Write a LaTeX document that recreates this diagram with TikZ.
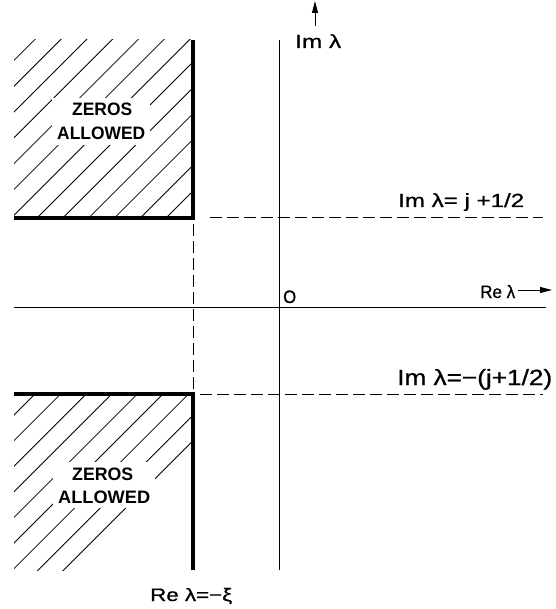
\documentclass[tikz,border=0pt]{standalone}
\usepackage{fontspec}
\usepackage{graphicx}
\setmainfont{Liberation Sans}
\newfontfamily\labfont[FakeBold=0.8]{Liberation Sans}
\newcommand{\fitw}[3]{\resizebox{#1pt}{\height}{\fontsize{#2}{#2}\selectfont #3}}
\usetikzlibrary{arrows.meta}
\begin{document}
\begin{tikzpicture}[x=1pt,y=-1pt,
  thin line/.style={line width=1pt},
  thick edge/.style={line width=3.5pt},
  dash line/.style={line width=1pt,dash pattern=on 12pt off 5pt},
  hatch/.style={line width=0.8pt},
  lbl/.style={inner sep=0pt,anchor=base west,font=\labfont},
  zlbl/.style={inner sep=0pt,anchor=base west,font=\bfseries},
  wbox/.style={fill=white,draw=none},
  arr/.style={line width=1pt,-{Triangle[length=12pt,width=6pt]}}]
\useasboundingbox (0,0) rectangle (555,609);
% coordinates
\coordinate (vtop) at (279,40);
\coordinate (vbot) at (279,570);
\coordinate (hl) at (14,307);
\coordinate (hr) at (546,307);
\coordinate (c1) at (193,218);
\coordinate (c2) at (193,394);
\coordinate (t1l) at (14,218);
\coordinate (t1t) at (193,40);
\coordinate (t2l) at (14,394);
\coordinate (t2b) at (193,570);
\coordinate (d1s) at (210,218);
\coordinate (d1e) at (543,218);
\coordinate (d2s) at (200,394);
\coordinate (d2e) at (543,394);
\coordinate (dvs) at (193,224);
% hatching top
\begin{scope}
\clip (14,40) rectangle (193,218);
\foreach \k in {-7,...,6} {
  \pgfmathsetmacro{\c}{255+25.8*\k}
  \draw[hatch] (\c-300,300) -- (\c+100,-100);
}
\end{scope}
% hatching bottom
\begin{scope}
\clip (14,394) rectangle (193,570);
\foreach \k in {-7,...,8} {
  \pgfmathsetmacro{\c}{429+25.6*\k}
  \draw[hatch] (\c-700,700) -- (\c-300,300);
}
\end{scope}
% white patches behind region labels
\fill[wbox] (52,98) rectangle (150,145);
\fill[wbox] (53,462) rectangle (155,508);
% labels in regions
\node[zlbl] (z1a) at (72,116) {\fitw{60}{18}{ZEROS}};
\node[zlbl] (z1b) at (57,140) {\fitw{88}{18}{ALLOWED}};
\node[zlbl] (z2a) at (72,480) {\fitw{61}{18}{ZEROS}};
\node[zlbl] (z2b) at (58,503) {\fitw{92}{18}{ALLOWED}};
% thick edges
\draw[thick edge] (t1l) -- (c1) -- (t1t);
\draw[thick edge] (t2b) -- (c2) -- (t2l);
% axes
\draw[thin line] (vtop) -- (vbot);
\draw[thin line] (hl) -- (hr);
% dashed
\draw[dash line] (d1s) -- (d1e);
\draw[dash line] (d2s) -- (d2e);
\draw[dash line] (dvs) -- (c2);
% arrows
\coordinate (a1s) at (315,26);
\coordinate (a1e) at (315,1);
\draw[arr] (a1s) -- (a1e);
\coordinate (a2s) at (518,290);
\coordinate (a2e) at (552,290);
\draw[arr] (a2s) -- (a2e);
% text labels
\node[lbl] (im) at (295,48) {\fitw{46}{19}{Im λ}};
\node[lbl] (re) at (480,298) {\fitw{35}{18}{Re λ}};
\node[lbl] (o) at (283,303) {\fitw{13}{18}{O}};
\node[lbl] (l1) at (398,207) {\fitw{126}{19}{Im λ= j +1/2}};
\node[lbl] (l2) at (397,385) {\fitw{155}{22}{Im λ=−(j+1/2)}};
\node[lbl] (l3) at (150,601) {\fitw{82}{18}{Re λ=−ξ}};
\end{tikzpicture}
\end{document}
